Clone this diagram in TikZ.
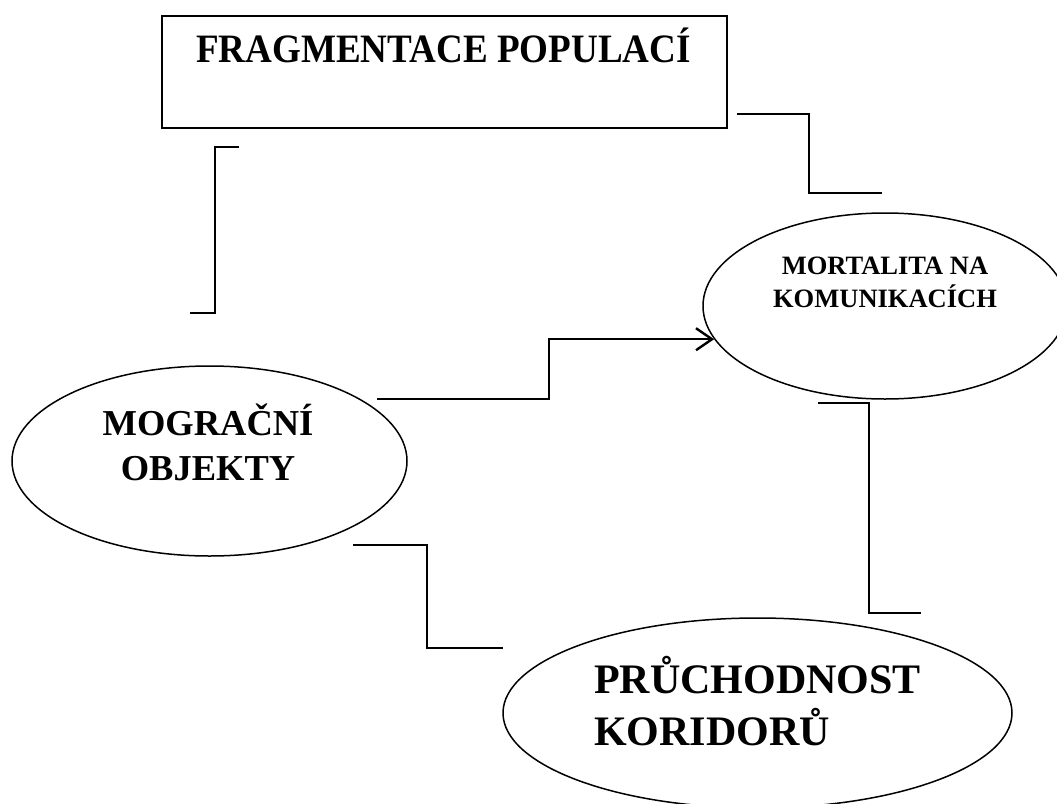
\documentclass[tikz,border=0pt]{standalone}
\usepackage{fontspec}
\setmainfont{Liberation Serif}
\usetikzlibrary{shapes.geometric,arrows.meta}

\tikzset{
  box/.style={draw, line width=1.8pt, rectangle, inner sep=0pt},
  oval/.style={draw, line width=1.5pt, ellipse, inner sep=0pt},
  conn/.style={draw, line width=2pt},
  flow/.style={draw, line width=2.4pt, -{Straight Barb[length=16pt,width=22pt,line width=2.4pt]}},
  lbl/.style={inner sep=0pt, anchor=base, font=\bfseries},
}

\begin{document}
\begin{tikzpicture}[x=1pt, y=-1pt]
  \useasboundingbox (0,0) rectangle (1057,803);
  \fill[white] (0,0) rectangle (1057,803);
  \clip (0,0) rectangle (1057,803);

  % shapes
  \node[box, anchor=north west, minimum width=565pt, minimum height=112pt] (frag) at (161,15) {};
  \node[oval, minimum width=364pt, minimum height=186pt] (mort) at (885,306) {};
  \node[oval, minimum width=395pt, minimum height=190pt] (migr) at (209.5,461) {};
  \node[oval, minimum width=509pt, minimum height=190pt] (corr) at (757.5,713) {};

  % labels
  \node[lbl, font=\bfseries\fontsize{40.3}{48}\selectfont] (fragtxt) at (443.5,62)
    {\scalebox{0.92}[1]{FRAGMENTACE POPULACÍ}};
  \node[lbl, font=\bfseries\fontsize{26.5}{32}\selectfont] (morta) at (885,274) {MORTALITA NA};
  \node[lbl, font=\bfseries\fontsize{26.5}{32}\selectfont] (mortb) at (885,307) {KOMUNIKACÍCH};
  \node[lbl, font=\bfseries\fontsize{36.5}{44}\selectfont] (migra) at (208,435) {MOGRAČNÍ};
  \node[lbl, font=\bfseries\fontsize{36.5}{44}\selectfont] (migrb) at (208,480) {OBJEKTY};
  \node[lbl, anchor=base west, font=\bfseries\fontsize{42}{50}\selectfont] (corra) at (594,693) {PRŮCHODNOST};
  \node[lbl, anchor=base west, font=\bfseries\fontsize{42}{50}\selectfont] (corrb) at (594,745) {KORIDORŮ};

  % bracket connectors
  \coordinate (l1a) at (239,147);
  \coordinate (l1b) at (215,147);
  \coordinate (l1c) at (215,313);
  \coordinate (l1d) at (190,313);
  \draw[conn] (l1a) -- (l1b) -- (l1c) -- (l1d);

  \coordinate (r1a) at (737,114);
  \coordinate (r1b) at (809,114);
  \coordinate (r1c) at (809,193);
  \coordinate (r1d) at (882,193);
  \draw[conn] (r1a) -- (r1b) -- (r1c) -- (r1d);

  \coordinate (r2a) at (818,403);
  \coordinate (r2b) at (869,403);
  \coordinate (r2c) at (869,613);
  \coordinate (r2d) at (921,613);
  \draw[conn] (r2a) -- (r2b) -- (r2c) -- (r2d);

  \coordinate (l2a) at (353,545);
  \coordinate (l2b) at (427,545);
  \coordinate (l2c) at (427,648);
  \coordinate (l2d) at (503,648);
  \draw[conn] (l2a) -- (l2b) -- (l2c) -- (l2d);

  % arrow into the mortality ellipse
  \coordinate (fa) at (377,399);
  \coordinate (fb) at (549,399);
  \draw[flow] (fa) -- (fb) |- (mort.191);
\end{tikzpicture}
\end{document}
